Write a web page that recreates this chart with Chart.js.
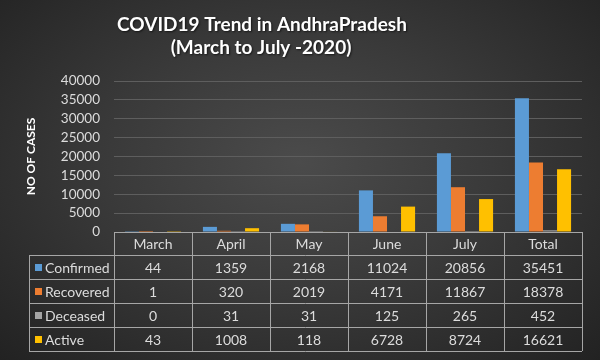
<!DOCTYPE html>
<html>
<head>
<meta charset="utf-8">
<script src="https://cdn.jsdelivr.net/npm/chart.js@4.4.1/dist/chart.umd.min.js"></script>
<style>
    html, body { margin: 0; padding: 0; }
    #wrap {
        width: 600px;
        height: 360px;
        background: radial-gradient(ellipse at 50% 45%, #4b4b4b 0%, #3a3a3a 45%, #222222 100%);
    }
</style>
</head>
<body>
<div id="wrap"><canvas id="covidChart" width="600" height="360"></canvas></div>
<script>
// Data
const months = ['March', 'April', 'May', 'June', 'July', 'Total'];
const confirmed = [44, 1359, 2168, 11024, 20856, 35451];
const recovered = [1, 320, 2019, 4171, 11867, 18378];
const deceased = [0, 31, 31, 125, 265, 452];
const active = [43, 1008, 118, 6728, 8724, 16621];
const seriesNames = ['Confirmed', 'Recovered', 'Deceased', 'Active'];
const seriesColors = ['#5b9bd5', '#ed7d31', '#a5a5a5', '#ffc000'];
const titleLines = ['COVID19 Trend in AndhraPradesh', '(March to July -2020)'];
const yMax = 40000;
const yStep = 5000;

const textColor = '#dcdcdc';
const lineColor = '#a6a6a6';
const fontFamily = 'Lato, "Open Sans", sans-serif';

// Title sits left of centre in the reference, so draw it by hand
const chartTitle = {
    id: 'chartTitle',
    afterDraw(chart) {
        const ctx = chart.ctx;
        ctx.save();
        ctx.font = 'bold 19px ' + fontFamily;
        ctx.textAlign = 'center';
        ctx.textBaseline = 'middle';
        ctx.shadowColor = 'rgba(0,0,0,0.6)';
        ctx.shadowOffsetX = 1;
        ctx.shadowOffsetY = 1;
        ctx.shadowBlur = 2;
        ctx.fillStyle = '#ffffff';
        ctx.fillText(titleLines[0], 262, 25);
        ctx.fillText(titleLines[1], 261, 48);
        ctx.restore();
    }
};

// Draws the data table under the plot, lined up with the x scale
const dataTable = {
    id: 'dataTable',
    afterDraw(chart) {
        const ctx = chart.ctx;
        const area = chart.chartArea;
        const x = chart.scales.x;
        const rows = [confirmed, recovered, deceased, active];
        const headerH = 23;
        const rowH = 24;
        const legendLeft = 29;
        const top = area.bottom;
        const bodyTop = top + headerH;
        const bottom = bodyTop + rowH * rows.length;

        ctx.save();
        ctx.strokeStyle = lineColor;
        ctx.lineWidth = 1;
        ctx.beginPath();
        ctx.moveTo(area.left, top + 0.5);
        ctx.lineTo(area.right, top + 0.5);
        for (let r = 0; r <= rows.length; r++) {
            const y = Math.round(bodyTop + r * rowH) + 0.5;
            ctx.moveTo(legendLeft, y);
            ctx.lineTo(area.right, y);
        }
        const step = (area.right - area.left) / months.length;
        for (let c = 0; c <= months.length; c++) {
            const xx = Math.round(area.left + c * step) + 0.5;
            ctx.moveTo(xx, top);
            ctx.lineTo(xx, bottom);
        }
        ctx.moveTo(legendLeft + 0.5, bodyTop);
        ctx.lineTo(legendLeft + 0.5, bottom);
        ctx.stroke();

        ctx.fillStyle = textColor;
        ctx.font = '14px ' + fontFamily;
        ctx.textBaseline = 'middle';
        ctx.textAlign = 'center';
        months.forEach((m, i) => {
            ctx.fillText(m, x.getPixelForValue(i), top + headerH / 2 + 1);
        });
        rows.forEach((vals, r) => {
            const cy = bodyTop + r * rowH + rowH / 2 + 1;
            ctx.textAlign = 'center';
            ctx.fillStyle = textColor;
            vals.forEach((v, i) => {
                ctx.fillText(String(v), x.getPixelForValue(i), cy);
            });
            ctx.fillStyle = seriesColors[r];
            ctx.fillRect(35, cy - 4, 7, 7);
            ctx.fillStyle = textColor;
            ctx.textAlign = 'left';
            ctx.fillText(seriesNames[r], 45, cy);
        });
        ctx.restore();
    }
};

const ctx = document.getElementById('covidChart');
new Chart(ctx, {
    type: 'bar',
    data: {
        labels: months,
        datasets: [confirmed, recovered, deceased, active].map((d, i) => ({
            label: seriesNames[i],
            data: d,
            backgroundColor: seriesColors[i],
            borderWidth: 0,
            categoryPercentage: 0.72,
            barPercentage: 1
        }))
    },
    options: {
        responsive: false,
        animation: false,
        layout: {
            padding: { left: 0, right: 18, top: 81, bottom: 128 }
        },
        plugins: {
            legend: { display: false },
            tooltip: { enabled: false },
            title: { display: false }
        },
        scales: {
            x: {
                display: false
            },
            y: {
                min: 0,
                max: yMax,
                ticks: {
                    stepSize: yStep,
                    autoSkip: false,
                    color: textColor,
                    font: { family: fontFamily, size: 13.5 },
                    padding: 14,
                    callback: v => String(v)
                },
                grid: {
                    color: '#5e5e5e',
                    drawTicks: false
                },
                border: { display: false },
                title: {
                    display: true,
                    text: 'NO OF CASES',
                    color: '#ffffff',
                    font: { family: fontFamily, size: 12, weight: 'bold' },
                    padding: { top: 24, bottom: 0 }
                },
                afterFit(scale) {
                    scale.width = 114;
                }
            }
        }
    },
    plugins: [dataTable, chartTitle]
});
</script>
</body>
</html>
